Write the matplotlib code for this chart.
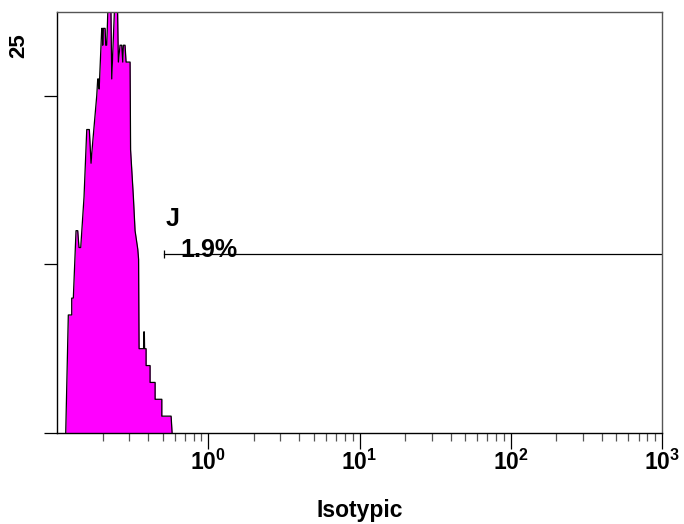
import numpy as np
import matplotlib
matplotlib.use("Agg")
import matplotlib.pyplot as plt
from matplotlib.ticker import FixedLocator, NullFormatter

plt.rcParams['font.family'] = ['Liberation Sans', 'DejaVu Sans']
plt.rcParams['font.weight'] = 'bold'
plt.rcParams['mathtext.fontset'] = 'custom'
plt.rcParams['mathtext.rm'] = 'Liberation Sans:bold'
plt.rcParams['mathtext.bf'] = 'Liberation Sans:bold'

# histogram outline (channel value, events)
channel = [0.1142, 0.1188, 0.1251, 0.1251, 0.1282, 0.1336, 0.1371, 0.1398, 0.1435,
           0.1509, 0.1573, 0.1636, 0.1679, 0.1713, 0.1831, 0.1859, 0.1880, 0.1900,
           0.1976, 0.1995, 0.2006, 0.2025, 0.2080, 0.2100, 0.2133, 0.2185, 0.2267,
           0.2301, 0.2420, 0.2506, 0.2545, 0.2611, 0.2680, 0.2721, 0.2747, 0.2818,
           0.2862, 0.3042, 0.3065, 0.3199, 0.3282, 0.3421, 0.3463, 0.3489, 0.3735,
           0.3750, 0.3780, 0.3793, 0.3882, 0.3882, 0.4125, 0.4125, 0.4453, 0.4453,
           0.4932, 0.4932, 0.5681, 0.5768]
events = [0, 7, 7, 8, 8, 12, 12, 11, 11,
          14, 18, 18, 16, 17, 20, 21, 21, 20.4,
          24, 24, 23, 24, 24, 23, 23, 26, 26,
          21, 26, 26, 22, 23, 23, 22, 23, 23,
          22, 22, 16.8, 14, 12, 10.9, 10.3, 5, 5,
          6, 6, 5, 5, 4, 4, 3, 3, 2,
          2, 1, 1, 0]

# marker gate J
gate_start = 0.513
gate_end = 1000
gate_level = 10.6
gate_name = "J"
gate_pct = "1.9%"

ymax = 25
xlabel = "Isotypic"

fig = plt.figure(figsize=(6.84, 5.24), dpi=100)
ax = fig.add_axes([57/684, 1 - 433/524, 605/684, 421.5/524])

ax.fill_between(channel, events, 0, color='#ff00ff', linewidth=0)
ax.plot(channel, events, color='black', linewidth=0.9)

ax.plot([gate_start, gate_end], [gate_level, gate_level], color='black', linewidth=0.9)
ax.plot([gate_start], [gate_level], marker='|', color='black', markersize=6, markeredgewidth=0.9)
ax.text(0.5264, 12.3, gate_name, fontsize=18, fontweight='bold', va='baseline')
ax.text(0.652, 10.45, gate_pct, fontsize=18, fontweight='bold', va='baseline')

ax.set_xscale('log')
ax.set_xlim(0.1, 1000)
ax.set_ylim(0, ymax)

majors = [1, 10, 100, 1000]
ax.xaxis.set_major_locator(FixedLocator(majors))
ax.set_xticklabels([r'$\mathbf{10^{%d}}$' % int(np.log10(m)) for m in majors])
minors = [k * d for d in [0.1, 1, 10, 100] for k in range(2, 10)]
ax.xaxis.set_minor_locator(FixedLocator(minors))
ax.xaxis.set_minor_formatter(NullFormatter())
ax.tick_params(axis='x', which='major', length=11.5, width=0.9, pad=0.5, labelsize=16.5)
ax.tick_params(axis='x', which='minor', length=5.8, width=0.9, color='#555555')

ax.set_yticks([0, 10, 20])
ax.set_yticklabels([])
ax.tick_params(axis='y', length=9.5, width=0.9)

for side in ['top', 'right']:
    ax.spines[side].set_color('#555555')
for side in ['left', 'bottom']:
    ax.spines[side].set_color('black')
for sp in ax.spines.values():
    sp.set_linewidth(1.0)

fig.text(18.5/684, 1 - 45.5/524, str(ymax), rotation=90, fontsize=16,
         fontweight='bold', ha='center', va='center')
fig.text(359.5/684, 1 - 510/524, xlabel, fontsize=16.5, fontweight='bold',
         ha='center', va='center')

plt.savefig("out.png", dpi=100)
